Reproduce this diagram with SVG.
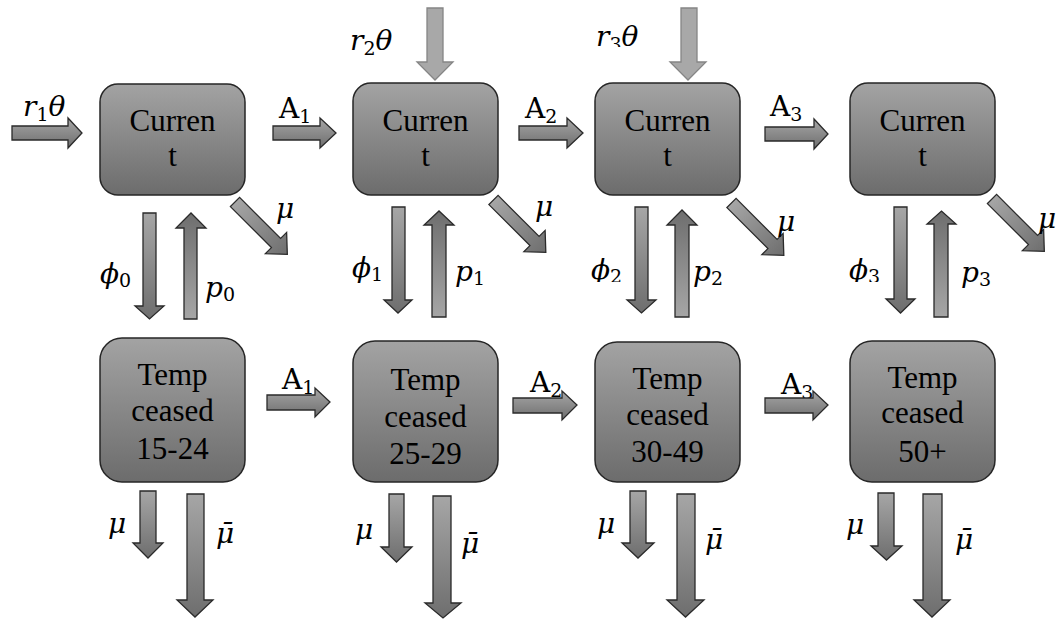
<svg xmlns="http://www.w3.org/2000/svg" width="1062" height="621" viewBox="0 0 1062 621">
<style>
.node{stroke:#262626;stroke-width:1.5;fill:url(#gNode)}
.ntxt{font-family:'Liberation Serif',serif;font-size:31px;fill:#000;text-anchor:middle}
.ar{stroke:#2a2a2a;stroke-width:1.3;stroke-linejoin:miter}
.dn{fill:url(#gDown)}
.up{fill:url(#gUp)}
.rt{fill:url(#gDown)}
.dg{fill:url(#gRight)}
.lt{fill:#a8a8a8;stroke:#858585;stroke-width:1.3}
.m{font-family:'DejaVu Serif',serif;font-style:italic;font-size:28px;fill:#000}
.s{font-style:normal;font-size:19px}
.a{font-family:'DejaVu Serif',serif;font-size:28px;fill:#000}
</style>
<defs>
<linearGradient id="gNode" x1="0" y1="0" x2="0" y2="1"><stop offset="0" stop-color="#a3a3a3"/><stop offset="1" stop-color="#6c6c6c"/></linearGradient>
<linearGradient id="gDown" x1="0" y1="0" x2="0" y2="1"><stop offset="0" stop-color="#a6a6a6"/><stop offset="1" stop-color="#6e6e6e"/></linearGradient>
<linearGradient id="gUp" x1="0" y1="1" x2="0" y2="0"><stop offset="0" stop-color="#a6a6a6"/><stop offset="1" stop-color="#6e6e6e"/></linearGradient>
<linearGradient id="gRight" x1="0" y1="0" x2="1" y2="0"><stop offset="0" stop-color="#a6a6a6"/><stop offset="1" stop-color="#6e6e6e"/></linearGradient>
<clipPath id="c2"><rect x="580" y="240" width="50" height="42"/></clipPath>
<clipPath id="c3"><rect x="838" y="240" width="50" height="42"/></clipPath>
<clipPath id="cr3"><rect x="590" y="5" width="60" height="42"/></clipPath>
</defs>

<g id="node-current-1"><rect class="node" x="100" y="84" width="145" height="111" rx="18"/><text class="ntxt" font-family="Liberation Serif, serif" x="172.5" y="131">Curren</text><text class="ntxt" font-family="Liberation Serif, serif" x="172.5" y="166">t</text></g>
<g id="node-current-2"><rect class="node" x="353" y="83" width="145" height="112" rx="18"/><text class="ntxt" font-family="Liberation Serif, serif" x="425.5" y="131">Curren</text><text class="ntxt" font-family="Liberation Serif, serif" x="425.5" y="166">t</text></g>
<g id="node-current-3"><rect class="node" x="595" y="83" width="145" height="112" rx="18"/><text class="ntxt" font-family="Liberation Serif, serif" x="667.5" y="131">Curren</text><text class="ntxt" font-family="Liberation Serif, serif" x="667.5" y="166">t</text></g>
<g id="node-current-4"><rect class="node" x="850" y="83" width="145" height="112" rx="18"/><text class="ntxt" font-family="Liberation Serif, serif" x="922.5" y="131">Curren</text><text class="ntxt" font-family="Liberation Serif, serif" x="922.5" y="166">t</text></g>

<g id="node-temp-1"><rect class="node" x="100" y="338" width="145" height="144" rx="22"/><text class="ntxt" font-family="Liberation Serif, serif" x="172.5" y="385">Temp</text><text class="ntxt" font-family="Liberation Serif, serif" x="172.5" y="421">ceased</text><text class="ntxt" font-family="Liberation Serif, serif" x="172.5" y="459">15-24</text></g>
<g id="node-temp-2"><rect class="node" x="353" y="341" width="145" height="141" rx="22"/><text class="ntxt" font-family="Liberation Serif, serif" x="425.5" y="390">Temp</text><text class="ntxt" font-family="Liberation Serif, serif" x="425.5" y="427">ceased</text><text class="ntxt" font-family="Liberation Serif, serif" x="425.5" y="464">25-29</text></g>
<g id="node-temp-3"><rect class="node" x="595" y="342" width="145" height="140" rx="22"/><text class="ntxt" font-family="Liberation Serif, serif" x="667.5" y="389">Temp</text><text class="ntxt" font-family="Liberation Serif, serif" x="667.5" y="425">ceased</text><text class="ntxt" font-family="Liberation Serif, serif" x="667.5" y="462">30-49</text></g>
<g id="node-temp-4"><rect class="node" x="850" y="341" width="145" height="141" rx="22"/><text class="ntxt" font-family="Liberation Serif, serif" x="922.5" y="388">Temp</text><text class="ntxt" font-family="Liberation Serif, serif" x="922.5" y="423">ceased</text><text class="ntxt" font-family="Liberation Serif, serif" x="922.5" y="462">50+</text></g>

<g id="labels-under">
<text class="a" x="282" y="389">A<tspan class="s" dy="5">1</tspan></text>
<text class="a" x="530" y="392">A<tspan class="s" dy="5">2</tspan></text>
<text class="a" x="781" y="394">A<tspan class="s" dy="5">3</tspan></text>
</g>

<g id="connectors">
<path class="ar rt" d="M12 126H68V118L82 133L68 148V140H12Z"/>
<path class="lt" d="M427 8H443V62H453L435 80L417 62H427Z"/>
<path class="lt" d="M681 8H697V62H706L688 80L670 62H681Z"/>
<path class="ar rt" d="M273 126H320V118L336 133L320 148V140H273Z"/>
<path class="ar rt" d="M519 126H567V118L583 133L567 148V140H519Z"/>
<path class="ar rt" d="M765 127H814V119L828 134L814 149V141H765Z"/>
<path class="ar rt" d="M267 395H315V388L330 402L315 417V410H267Z"/>
<path class="ar rt" d="M513 398H562V391L577 405L562 420V413H513Z"/>
<path class="ar rt" d="M765 398H813V391L828 405L813 420V413H765Z"/>
<path class="ar dn" d="M143 213H156V306H164L149.5 319L135 306H143Z"/>
<path class="ar dn" d="M392 207H405V300H412L398 313L384 300H392Z"/>
<path class="ar dn" d="M635 207H648V300H656L641.5 313L627 300H635Z"/>
<path class="ar dn" d="M894 207H907V299H915L900.5 313L886 299H894Z"/>
<path class="ar up" d="M184 319H197V228H206L191 213L176 228H184Z"/>
<path class="ar up" d="M432 317H446V225H454L439 211L424 225H432Z"/>
<path class="ar up" d="M675 317H689V225H697L682 210L667 225H675Z"/>
<path class="ar up" d="M934 317H948V224H956L941.5 211L927 224H934Z"/>
<path class="ar dg" transform="translate(235 202) rotate(45)" d="M0 -6.5H58V-15L74 0L58 15V6.5H0Z"/>
<path class="ar dg" transform="translate(493.5 200) rotate(45)" d="M0 -6.5H58V-15L74 0L58 15V6.5H0Z"/>
<path class="ar dg" transform="translate(731.5 203) rotate(45)" d="M0 -6.5H58V-15L74 0L58 15V6.5H0Z"/>
<path class="ar dg" transform="translate(992 199) rotate(45)" d="M0 -6.5H58V-15L74 0L58 15V6.5H0Z"/>
<path class="ar dn" d="M140 491H156V543H163L148 558L133 543H140Z"/>
<path class="ar dn" d="M389 494H404V547H412L396.5 562L381 547H389Z"/>
<path class="ar dn" d="M630 491H646V543H654L638 558L622 543H630Z"/>
<path class="ar dn" d="M878 493H894V546H902L886.5 560L871 546H878Z"/>
<path class="ar dn" d="M187 494H204V600H213L195 617L177 600H187Z"/>
<path class="ar dn" d="M433 496H451V603H461L443 618L425 603H433Z"/>
<path class="ar dn" d="M677 494H695V600H704L685.5 617L667 600H677Z"/>
<path class="ar dn" d="M923 494H942V600H950L932 617L914 600H923Z"/>
</g>

<g id="labels">
<text class="m" x="23" y="116">r<tspan class="s" dy="5">1</tspan><tspan dy="-5">θ</tspan></text>
<text class="m" x="350" y="50">r<tspan class="s" dy="5">2</tspan><tspan dy="-5">θ</tspan></text>
<text class="m" x="596" y="46" clip-path="url(#cr3)">r<tspan class="s" dy="5">3</tspan><tspan dy="-5">θ</tspan></text>
<text class="a" x="279" y="118">A<tspan class="s" dy="5">1</tspan></text>
<text class="a" x="525" y="118">A<tspan class="s" dy="5">2</tspan></text>
<text class="a" x="770" y="116">A<tspan class="s" dy="5">3</tspan></text>
<text class="m" x="276" y="218">μ</text>
<text class="m" x="535" y="216">μ</text>
<text class="m" x="777" y="231">μ</text>
<text class="m" x="1038" y="228">μ</text>
<text class="m" x="100" y="283">ϕ<tspan class="s" dy="4">0</tspan></text>
<text class="m" x="352" y="277">ϕ<tspan class="s" dy="4">1</tspan></text>
<text class="m" x="591" y="279" clip-path="url(#c2)">ϕ<tspan class="s" dy="4">2</tspan></text>
<text class="m" x="849" y="279" clip-path="url(#c3)">ϕ<tspan class="s" dy="4">3</tspan></text>
<text class="m" x="205" y="297">p<tspan class="s" dy="4">0</tspan></text>
<text class="m" x="455" y="281">p<tspan class="s" dy="4">1</tspan></text>
<text class="m" x="693" y="281">p<tspan class="s" dy="4">2</tspan></text>
<text class="m" x="961" y="282">p<tspan class="s" dy="4">3</tspan></text>
<text class="m" x="108" y="533">μ</text>
<text class="m" x="216" y="543">μ̄</text>
<text class="m" x="355" y="539">μ</text>
<text class="m" x="461" y="553">μ̄</text>
<text class="m" x="597" y="533">μ</text>
<text class="m" x="705" y="549">μ̄</text>
<text class="m" x="846" y="534">μ</text>
<text class="m" x="955" y="549">μ̄</text>
</g>
</svg>
